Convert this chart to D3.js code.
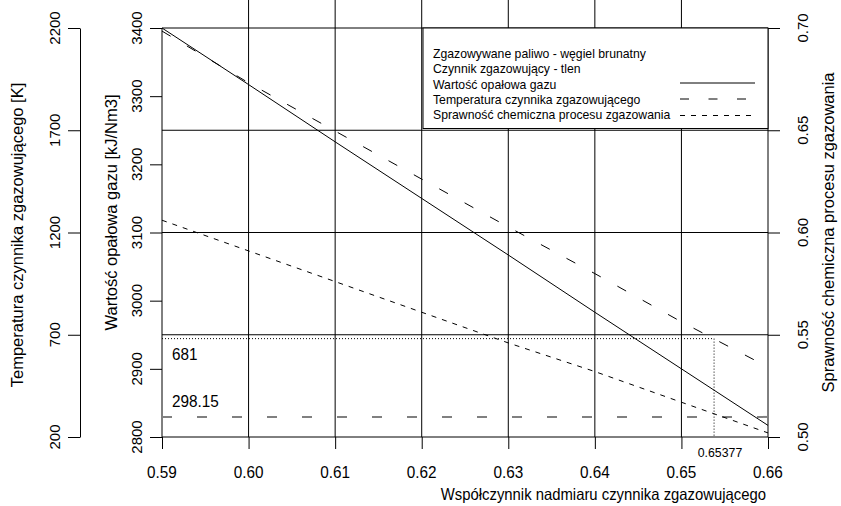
<!DOCTYPE html>
<html>
<head>
<meta charset="utf-8">
<script src="https://cdn.jsdelivr.net/npm/d3@7"></script>
<style>
  html, body { margin: 0; padding: 0; background: #fff; }
  svg { display: block; font-family: "Liberation Sans", Arial, sans-serif; }
</style>
</head>
<body>
<svg id="chart" width="841" height="506"></svg>
<script>
// ---- data ----
const alpha = [0.59, 0.60, 0.61, 0.62, 0.63, 0.64, 0.65, 0.66];
const heatValue = [3400, 3317, 3233, 3150, 3067, 2983, 2900, 2817];
const gasTemp = [2185, 1932, 1696, 1461, 1227, 999, 763, 542];
const efficiency = [0.606, 0.591, 0.576, 0.561, 0.546, 0.532, 0.517, 0.502];

const xTicks = [0.59, 0.60, 0.61, 0.62, 0.63, 0.64, 0.65, 0.66];
const heatTicks = [2800, 2900, 3000, 3100, 3200, 3300, 3400];
const tempTicks = [200, 700, 1200, 1700, 2200];
const effTicks = [0.50, 0.55, 0.60, 0.65, 0.70];

const refTemp = 298.15;
const markAlpha = 0.65377;
const markTemp = 681;

const legendInfo = ["Zgazowywane paliwo - węgiel brunatny", "Czynnik zgazowujący - tlen"];
const legendSeries = ["Wartość opałowa gazu", "Temperatura czynnika zgazowującego", "Sprawność chemiczna procesu zgazowania"];

const xTitle = "Współczynnik nadmiaru czynnika zgazowującego";
const heatTitle = "Wartość opałowa gazu [kJ/Nm3]";
const tempTitle = "Temperatura czynnika zgazowującego [K]";
const effTitle = "Sprawność chemiczna procesu zgazowania";

// ---- layout ----
const L = 162, R = 768, T = 28, B = 437;
const svg = d3.select("#chart");

const x = d3.scaleLinear().domain([0.59, 0.66]).range([L, R]);
const yHeat = d3.scaleLinear().domain([2800, 3400]).range([B, T]);
const yTemp = d3.scaleLinear().domain([200, 2200]).range([B, T]);
const yEff = d3.scaleLinear().domain([0.50, 0.70]).range([B, T]);

const g = svg.append("g");

// vertical grid lines
g.selectAll("line.vg").data(xTicks.slice(1, -1)).enter().append("line")
  .attr("x1", d => x(d)).attr("x2", d => x(d))
  .attr("y1", 0).attr("y2", B)
  .attr("stroke", "#000").attr("stroke-width", 1);

// horizontal grid lines (temperature ticks)
g.selectAll("line.hg").data(tempTicks).enter().append("line")
  .attr("x1", L).attr("x2", R)
  .attr("y1", d => yTemp(d)).attr("y2", d => yTemp(d))
  .attr("stroke", "#000").attr("stroke-width", 1);

// plot box sides
g.append("line").attr("x1", L).attr("x2", L).attr("y1", T).attr("y2", B).attr("stroke", "#000");
g.append("line").attr("x1", R).attr("x2", R).attr("y1", T).attr("y2", B).attr("stroke", "#000");

// axes (ticks only, labels added separately)
svg.append("g").attr("transform", `translate(0,${B})`)
  .call(d3.axisBottom(x).tickValues(xTicks).tickSize(12).tickFormat(""))
  .call(a => a.select(".domain").remove());
svg.append("g").attr("transform", `translate(${L},0)`)
  .call(d3.axisLeft(yHeat).tickValues(heatTicks).tickSize(12).tickFormat(""))
  .call(a => a.select(".domain").remove());
svg.append("g").attr("transform", `translate(80,0)`)
  .call(d3.axisLeft(yTemp).tickValues(tempTicks).tickSize(12).tickSizeOuter(0).tickFormat(""));
svg.append("g").attr("transform", `translate(${R},0)`)
  .call(d3.axisRight(yEff).tickValues(effTicks).tickSize(12).tickFormat(""))
  .call(a => a.select(".domain").remove());
svg.selectAll(".tick line").attr("stroke", "#000");
svg.selectAll(".domain").attr("stroke", "#000");

// reference temperature line 298.15
g.append("line")
  .attr("x1", L).attr("x2", R)
  .attr("y1", yTemp(refTemp)).attr("y2", yTemp(refTemp))
  .attr("stroke", "#808080").attr("stroke-width", 2)
  .attr("stroke-dasharray", "10,25");

// dotted marker lines for 681 K
g.append("line")
  .attr("x1", L).attr("x2", x(markAlpha))
  .attr("y1", yTemp(markTemp)).attr("y2", yTemp(markTemp))
  .attr("stroke", "#000").attr("stroke-width", 1).attr("stroke-dasharray", "1,2");
g.append("line")
  .attr("x1", x(markAlpha)).attr("x2", x(markAlpha))
  .attr("y1", yTemp(markTemp)).attr("y2", B)
  .attr("stroke", "#000").attr("stroke-width", 1).attr("stroke-dasharray", "1,2");

// series lines
const lineHeat = d3.line().x((d, i) => x(alpha[i])).y(d => yHeat(d));
const lineTemp = d3.line().x((d, i) => x(alpha[i])).y(d => yTemp(d));
const lineEff = d3.line().x((d, i) => x(alpha[i])).y(d => yEff(d));

g.append("path").attr("d", lineHeat(heatValue)).attr("fill", "none")
  .attr("stroke", "#000").attr("stroke-width", 1);
g.append("path").attr("d", lineTemp(gasTemp)).attr("fill", "none")
  .attr("stroke", "#000").attr("stroke-width", 1).attr("stroke-dasharray", "10,19");
g.append("path").attr("d", lineEff(efficiency)).attr("fill", "none")
  .attr("stroke", "#000").attr("stroke-width", 1).attr("stroke-dasharray", "5,6");

// legend
const lg = svg.append("g");
lg.append("rect").attr("x", 423).attr("y", T).attr("width", R - 423).attr("height", 100.5)
  .attr("fill", "#fff").attr("stroke", "#000").attr("stroke-width", 1);
const legendRows = legendInfo.concat(legendSeries);
const rowBase = [58, 73, 88.5, 104, 119];
lg.selectAll("text").data(legendRows).enter().append("text")
  .attr("class", "h")
  .attr("x", 433).attr("y", (d, i) => rowBase[i])
  .attr("font-size", 13.6).text(d => d);
const legendDash = [null, "9,19.5", "5,6"];
const legendLineY = [83, 99, 115.5];
legendSeries.forEach((s, i) => {
  lg.append("line").attr("x1", 680).attr("x2", 755)
    .attr("y1", legendLineY[i]).attr("y2", legendLineY[i])
    .attr("stroke", "#000").attr("stroke-width", 1)
    .attr("stroke-dasharray", legendDash[i]);
});

// tick labels
const fmt2 = d3.format(".2f");
svg.append("g").selectAll("text").data(xTicks).enter().append("text")
  .attr("class", "h").attr("x", d => x(d)).attr("y", 478)
  .attr("text-anchor", "middle").attr("font-size", 17).text(d => fmt2(d));

function rotLabels(ticks, scale, bx, f, size) {
  svg.append("g").selectAll("text").data(ticks).enter().append("text")
    .attr("transform", d => `translate(${bx},${scale(d)}) rotate(-90)`)
    .attr("text-anchor", "middle").attr("font-size", size).text(f);
}
rotLabels(heatTicks, yHeat, 142, d => d, 15);
rotLabels(tempTicks, yTemp, 60, d => d, 15);
rotLabels(effTicks, yEff, 808, d => fmt2(d), 15);

// titles
svg.append("text").attr("class", "h").attr("x", 766).attr("y", 500)
  .attr("text-anchor", "end").attr("font-size", 16.5).text(xTitle);
svg.append("text").attr("transform", `translate(117,212.5) rotate(-90)`)
  .attr("text-anchor", "middle").attr("font-size", 16.5).text(heatTitle);
svg.append("text").attr("transform", `translate(23,235) rotate(-90)`)
  .attr("text-anchor", "middle").attr("font-size", 16.5).text(tempTitle);
svg.append("text").attr("transform", `translate(834,232.5) rotate(-90)`)
  .attr("text-anchor", "middle").attr("font-size", 16.5).text(effTitle);

// annotations
svg.append("text").attr("class", "h").attr("x", 172).attr("y", 360)
  .attr("font-size", 17).text(String(markTemp));
svg.append("text").attr("class", "h").attr("x", 172).attr("y", 407)
  .attr("font-size", 17).text(String(refTemp));
svg.append("text").attr("class", "h").attr("x", 720).attr("y", 457)
  .attr("text-anchor", "middle").attr("font-size", 13.7).text(String(markAlpha));

// horizontal condensation of horizontal texts
svg.selectAll("text.h").each(function() {
  const w = this.getComputedTextLength();
  d3.select(this).attr("textLength", (w * 0.9).toFixed(1)).attr("lengthAdjust", "spacingAndGlyphs");
});
</script>
</body>
</html>
